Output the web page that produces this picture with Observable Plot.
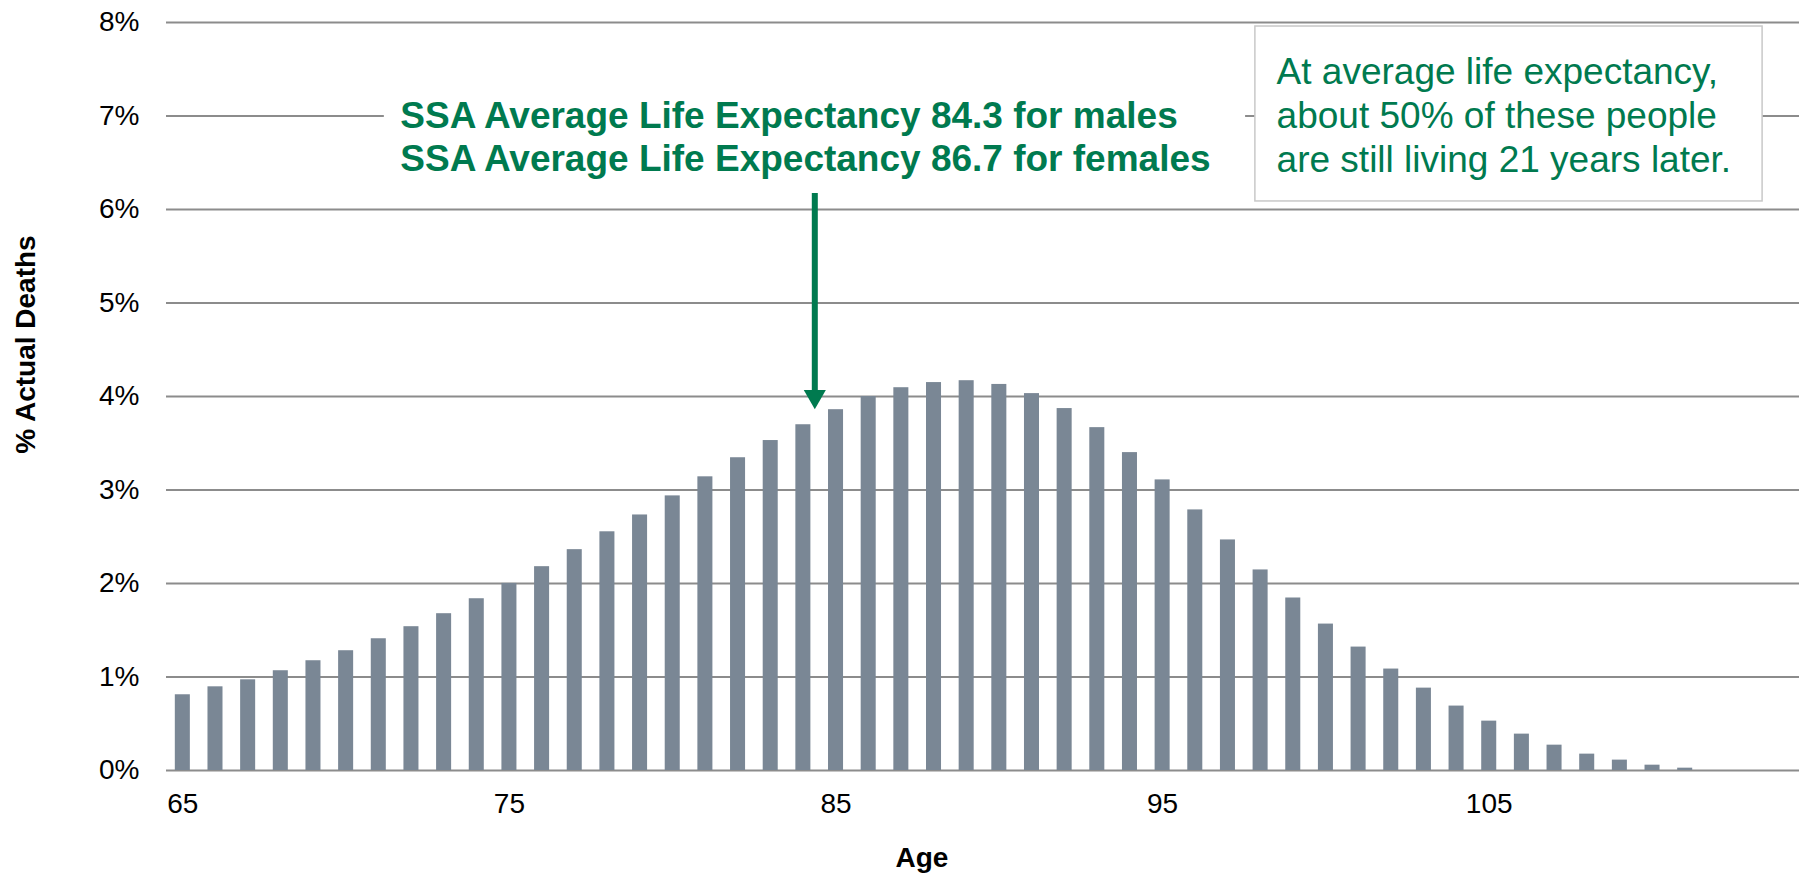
<!DOCTYPE html>
<html>
<head>
<meta charset="utf-8">
<script src="https://cdn.jsdelivr.net/npm/d3@7"></script>
<script src="https://cdn.jsdelivr.net/npm/@observablehq/plot@0.6"></script>
<style>
  html, body { margin: 0; padding: 0; background: #fff; overflow: hidden; }
  #chart svg { display: block; }
</style>
</head>
<body>
<div id="chart"></div>
<script>
// Age (years)
const ages = [65,66,67,68,69,70,71,72,73,74,75,76,77,78,79,80,81,82,83,84,85,86,87,88,89,90,
  91,92,93,94,95,96,97,98,99,100,101,102,103,104,105,106,107,108,109,110,111];
// % of actual deaths at each age
const pctDeaths = [0.81,0.895,0.97,1.067,1.174,1.281,1.409,1.538,1.677,1.837,2.001,2.18,2.362,
  2.553,2.733,2.937,3.141,3.345,3.529,3.698,3.859,4.0,4.094,4.149,4.169,4.129,4.031,3.871,3.667,
  3.4,3.108,2.787,2.466,2.145,1.845,1.566,1.32,1.085,0.881,0.689,0.528,0.389,0.271,0.175,0.111,
  0.057,0.025];
const xTicks = [65, 75, 85, 95, 105];
const yTicks = [0, 1, 2, 3, 4, 5, 6, 7, 8];
const xLabel = "Age";
const yLabel = "% Actual Deaths";
const lifeExpectancyText = "SSA Average Life Expectancy 84.3 for males\nSSA Average Life Expectancy 86.7 for females";
const noteText = "At average life expectancy,\nabout 50% of these people\nare still living 21 years later.";
const arrowAge = [84.35];

const data = ages.map((a, i) => ({age: a, pct: pctDeaths[i]}));

const GREEN = "#007a4f";
const BAR = "#7a8795";
const GRID = "#8c8c8c";
const FONT = "'Liberation Sans', Arial, sans-serif";

const chart = Plot.plot({
  width: 1799,
  height: 874,
  marginLeft: 166,
  marginRight: 0,
  marginTop: 22,
  marginBottom: 104,
  style: {fontFamily: FONT, color: "#000", background: "#fff"},
  x: {type: "linear", domain: [64.5, 114.5]},
  y: {domain: [0, 8]},
  marks: [
    Plot.gridY(yTicks, {stroke: GRID, strokeOpacity: 1, strokeWidth: 2}),
    Plot.rectY(data, {x1: d => d.age - 0.23, x2: d => d.age + 0.23, y: "pct", fill: BAR}),
    Plot.axisX(xTicks, {tickSize: 0, tickPadding: 23, fontSize: 28, label: null, fill: "#000"}),
    Plot.axisY(yTicks, {tickSize: 0, tickPadding: 27, fontSize: 28, label: null, fill: "#000", tickFormat: d => d + "%"}),
    Plot.text([xLabel], {frameAnchor: "bottom", dx: -61, dy: 96, lineAnchor: "bottom", fontSize: 28, fontWeight: "bold", fill: "#000"}),
    Plot.text([yLabel], {frameAnchor: "left", rotate: -90, dx: -140, dy: -52, textAnchor: "middle", lineAnchor: "middle", fontSize: 28, fontWeight: "bold", fill: "#000"}),
    // white backing behind the life-expectancy annotation
    Plot.rect([0], {x1: 71.17, x2: 97.54, y1: 6.3, y2: 7.7, fill: "#fff"}),
    Plot.text([lifeExpectancyText], {x: 71.66, y: 7.2, textAnchor: "start", lineAnchor: "top", lineHeight: 1.17,
      fontSize: 37, fontWeight: "bold", fill: GREEN}),
    Plot.ruleX(arrowAge, {y1: 4.05, y2: 6.171, stroke: GREEN, strokeWidth: 6}),
    Plot.dot(arrowAge, {x: d => d, y: 4.0, symbol: "triangle", rotate: 180, r: 8.2, fill: GREEN, stroke: "none"}),
    // note box
    Plot.rect([0], {x1: 97.84, x2: 113.37, y1: 6.086, y2: 7.957, fill: "#fff", stroke: "#c8c8c8", strokeWidth: 1.5}),
    Plot.text([noteText], {x: 98.49, y: 7.68, textAnchor: "start", lineAnchor: "top", lineHeight: 1.19,
      fontSize: 37, fill: GREEN})
  ]
});
document.getElementById("chart").appendChild(chart);
</script>
</body>
</html>
